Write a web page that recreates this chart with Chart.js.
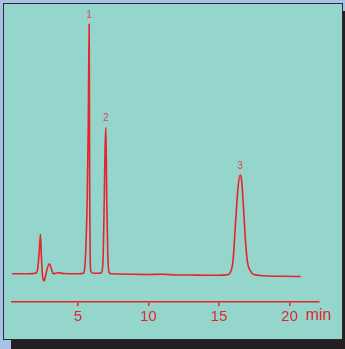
<!DOCTYPE html>
<html>
<head>
<meta charset="utf-8">
<script src="https://cdn.jsdelivr.net/npm/chart.js@4/dist/chart.umd.min.js"></script>
<style>
    html, body { margin: 0; padding: 0; }
    body { width: 345px; height: 349px; background: #a9c1e7; position: relative; overflow: hidden; }
    #shadow { position: absolute; left: 11px; top: 11px; right: 0; bottom: 0; background: #231f20; }
    #panel { position: absolute; left: 3px; top: 3px; width: 338px; height: 335px; border: 1px solid #2b2b2b; background: #94d5cc; }
    #chromChart { display: block; }
</style>
</head>
<body>
<div id="shadow"></div>
<div id="panel"><canvas id="chromChart" width="338" height="335"></canvas></div>
<script>
// retention time (min) and detector signal
const times = [
    0.33, 1.0, 1.5, 2.0, 2.15, 2.25, 2.35, 2.42, 2.5, 2.59, 2.7, 2.85, 3.0, 3.12, 3.25, 3.6, 4.0, 5.0,
    5.3, 5.43, 5.55, 5.66, 5.74, 5.8, 5.82, 5.84, 5.87, 5.92, 6.1, 6.4,
    6.6, 6.68, 6.78, 6.87, 6.93, 6.98, 7.02, 7.05, 7.12, 7.22, 7.4,
    8.0, 9.0, 10.0, 11.0, 12.0, 13.0, 14.0, 15.0, 15.6,
    15.85, 16.0, 16.2, 16.35, 16.5, 16.6, 16.75, 16.9, 17.05, 17.2, 17.4, 17.8,
    18.5, 19.5, 20.8
];
const signal = [
    0, 0, 0, 0.2, 2, 8, 15.8, 6, -1, -2.9, -1, 2.5, 4, 2, 0, 0.4, 0.1, 0,
    0.1, 0.5, 8, 29, 60, 100, 70, 30, 8, 1, 0.2, 0.2,
    0.2, 0.5, 5, 29, 50, 58.5, 45, 29, 8, 0.5, 0,
    -0.1, -0.2, -0.3, -0.2, -0.5, -0.5, -0.6, -0.6, -0.4,
    1, 5, 22, 34, 39.5, 38, 26, 12, 4, 1.5, 0, -0.6,
    -0.9, -1, -1.1
];
const xTicks = [5, 10, 15, 20];
const peakNames = ['1', '2', '3'];
const peakTimes = [5.8, 6.98, 16.5];
const peakHeights = [100, 58.5, 39.5];

const RED = '#e8232b';

// peak numbers above each apex, plus the "min" unit after the last tick
const annotations = {
    id: 'annotations',
    afterDraw(chart) {
        const ctx = chart.ctx;
        const x = chart.scales.x;
        const y = chart.scales.y;
        ctx.save();
        ctx.fillStyle = '#e0454b';
        ctx.font = '10px "Liberation Sans", Arial, sans-serif';
        ctx.textAlign = 'center';
        ctx.textBaseline = 'middle';
        peakNames.forEach(function(name, i) {
            ctx.fillText(name, x.getPixelForValue(peakTimes[i]), y.getPixelForValue(peakHeights[i]) - 9);
        });
        ctx.fillStyle = RED;
        ctx.font = '16px "Liberation Sans", Arial, sans-serif';
        ctx.textAlign = 'left';
        ctx.fillText('min', x.getPixelForValue(20) + 16, y.bottom + 14);
        ctx.restore();
    }
};

new Chart(document.getElementById('chromChart').getContext('2d'), {
    type: 'line',
    data: {
        datasets: [{
            data: times.map(function(t, i) { return { x: t, y: signal[i] }; }),
            borderColor: RED,
            borderWidth: 1.6,
            pointRadius: 0,
            cubicInterpolationMode: 'monotone',
            fill: false
        }]
    },
    options: {
        responsive: false,
        animation: false,
        layout: { padding: { left: 8, right: 23, top: 6, bottom: 11 } },
        plugins: { legend: { display: false }, tooltip: { enabled: false } },
        scales: {
            x: {
                type: 'linear',
                min: 0.33,
                max: 22.1,
                afterBuildTicks: function(scale) {
                    scale.ticks = xTicks.map(function(v) { return { value: v }; });
                },
                border: { color: RED, width: 1.5 },
                grid: { drawOnChartArea: false, color: RED, tickLength: 4, lineWidth: 1.5 },
                ticks: {
                    color: RED,
                    padding: 2,
                    maxRotation: 0,
                    font: { size: 15, family: '"Liberation Sans", Arial, sans-serif' }
                }
            },
            y: {
                display: false,
                min: -11.3,
                max: 105.6
            }
        }
    },
    plugins: [annotations]
});
</script>
</body>
</html>
